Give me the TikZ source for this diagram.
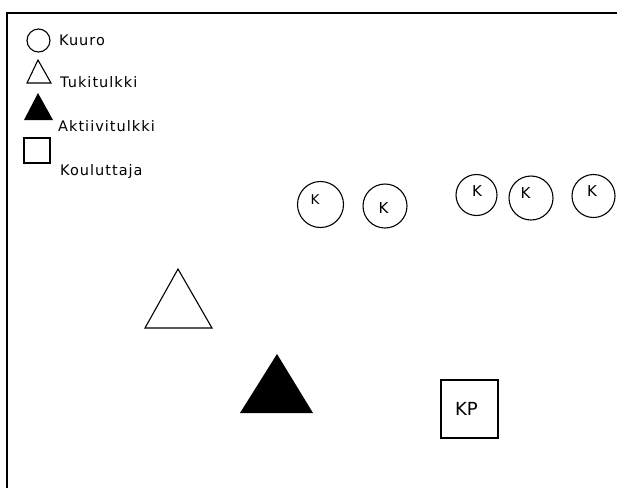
\documentclass[tikz,border=0pt]{standalone}
\usepackage{fontspec}
\setmainfont{DejaVu Sans}
\newfontfamily\legendfont[LetterSpace=7]{DejaVu Sans}
\begin{document}
\begin{tikzpicture}[x=1pt,y=-1pt,
  shape line/.style={draw=black,line width=1.1pt},
  kcircle/.style={circle,shape line,inner sep=0pt,minimum size=#1},
  ktext/.style={inner sep=0pt,font=\fontsize{15}{16}\selectfont},
  legendtext/.style={inner sep=0pt,anchor=base west,font=\legendfont\fontsize{14.5}{16}\selectfont}]
\useasboundingbox (0,0) rectangle (617,488);
% frame
\coordinate (tl) at (7,13);
\coordinate (tr) at (617,13);
\coordinate (bl) at (7,488);
\draw[line width=2pt] (bl) -- (tl) -- (tr);
% legend
\node[kcircle=23pt] (lc) at (38.5,40.5) {};
\node[legendtext] (lt1) at (59,45) {Kuuro};
\draw[shape line] (38,60) -- (51,83) -- (27,83) -- cycle;
\node[legendtext] (lt2) at (60,87.5) {Tukitulkki};
\fill[black] (38,93) -- (53,120) -- (24,120) -- cycle;
\node[legendtext] (lt3) at (58,131) {Aktiivitulkki};
\draw[shape line] (24,138) rectangle (50,163);
\node[legendtext] (lt4) at (60,175.5) {Kouluttaja};
% K circles
\node[kcircle=46pt] (c1) at (320.5,204.5) {};
\node[ktext,font=\fontsize{13.5}{15}\selectfont] (k1) at (315,199.5) {K};
\node[kcircle=44pt] (c2) at (385,206) {};
\node[ktext] (k2) at (383.5,208.5) {K};
\node[kcircle=41pt] (c3) at (476.5,195) {};
\node[ktext] (k3) at (477,191.5) {K};
\node[kcircle=44pt] (c4) at (531,198) {};
\node[ktext] (k4) at (525.5,193) {K};
\node[kcircle=43pt] (c5) at (593.5,196) {};
\node[ktext] (k5) at (592,191.5) {K};
% triangles
\draw[shape line] (178,269) -- (212,328) -- (145,328) -- cycle;
\fill[black] (277,354) -- (313,413) -- (240,413) -- cycle;
% KP
\node[draw=black,line width=1.3pt,minimum width=57pt,minimum height=58pt,inner sep=0pt] (kp) at (469.5,409) {};
\node[inner sep=0pt,font=\fontsize{18}{20}\selectfont] (kpt) at (466.5,408.5) {KP};
\end{tikzpicture}
\end{document}
